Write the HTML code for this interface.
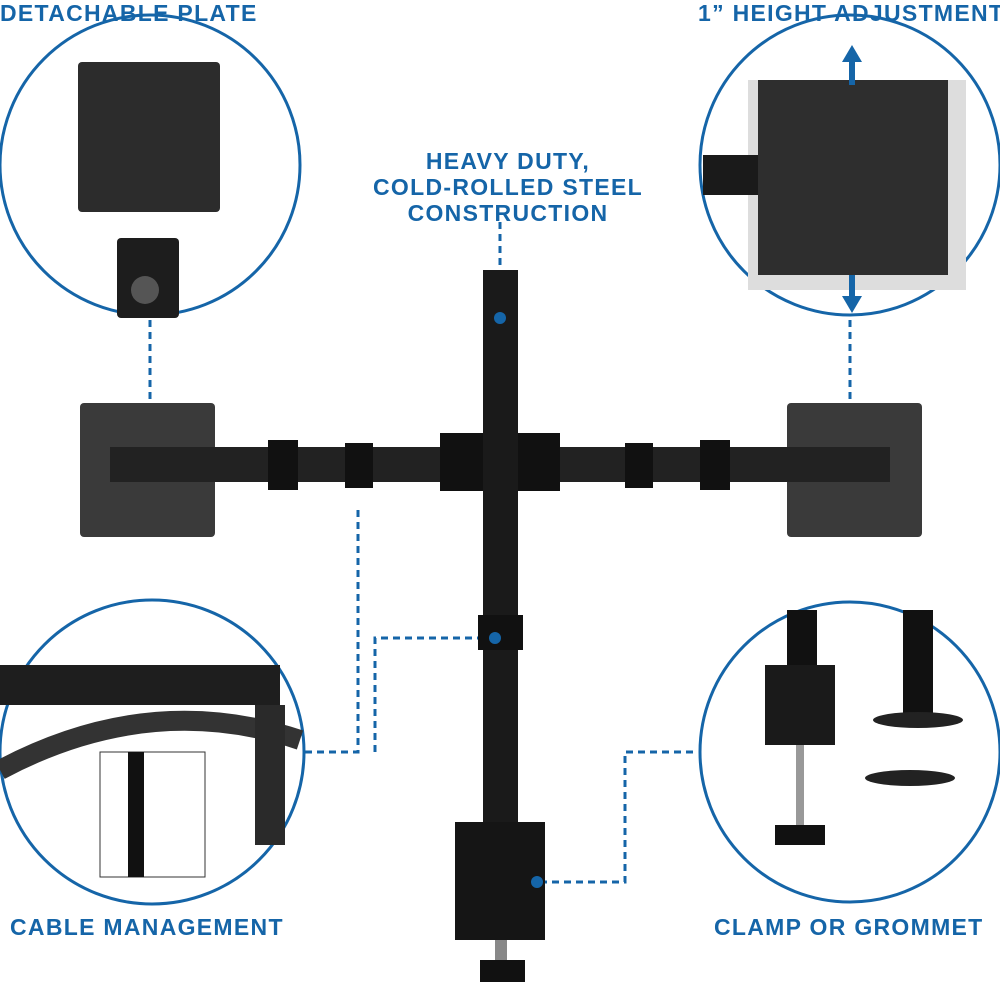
<!DOCTYPE html>
<html><head><meta charset="utf-8"><style>
body{margin:0;background:#fff}
.l{position:absolute;font-family:"Liberation Sans",sans-serif;font-weight:bold;color:#1565a8;font-size:23px;letter-spacing:1.3px;white-space:nowrap}
</style></head><body>
<div style="position:relative;width:1000px;height:1000px;overflow:hidden">
<svg width="1000" height="1000" style="position:absolute;left:0;top:0">
<g fill="none" stroke="#1565a8" stroke-width="3">
<circle cx="150" cy="165" r="150"/>
<circle cx="850" cy="165" r="150"/>
<circle cx="152" cy="752" r="152"/>
<circle cx="850" cy="752" r="150"/>
</g>
<g fill="none" stroke="#1565a8" stroke-width="3" stroke-dasharray="7,5">
<path d="M150 320 V400"/><path d="M850 320 V400"/>
<path d="M500 222 V312"/>
<path d="M358 510 V752 H305"/>
<path d="M375 752 V638 H490"/>
<path d="M540 882 H625 V752 H698"/>
</g>
<g fill="#3a3a3a"><rect x="80" y="403" width="135" height="134" rx="4"/><rect x="787" y="403" width="135" height="134" rx="4"/></g>
<rect x="110" y="447" width="780" height="35" fill="#222"/>
<rect x="440" y="433" width="120" height="58" fill="#111"/>
<g fill="#111"><rect x="268" y="440" width="30" height="50"/><rect x="345" y="443" width="28" height="45"/><rect x="625" y="443" width="28" height="45"/><rect x="700" y="440" width="30" height="50"/></g>
<rect x="483" y="270" width="35" height="560" fill="#1a1a1a"/>
<rect x="478" y="615" width="45" height="35" fill="#111"/>
<rect x="455" y="822" width="90" height="118" fill="#151515"/>
<rect x="495" y="940" width="12" height="25" fill="#888"/>
<rect x="480" y="960" width="45" height="22" fill="#111"/>
<g fill="#1565a8"><circle cx="500" cy="318" r="6"/><circle cx="495" cy="638" r="6"/><circle cx="537" cy="882" r="6"/></g>
<rect x="78" y="62" width="142" height="150" rx="4" fill="#2c2c2c"/>
<rect x="117" y="238" width="62" height="80" rx="4" fill="#1d1d1d"/>
<circle cx="145" cy="290" r="14" fill="#555"/>
<rect x="748" y="80" width="218" height="210" fill="#ddd"/>
<rect x="703" y="155" width="70" height="40" fill="#1a1a1a"/>
<rect x="758" y="80" width="190" height="195" fill="#2e2e2e"/>
<path d="M852 45 L842 62 H862 Z M852 313 L842 296 H862 Z" fill="#1565a8"/>
<rect x="849" y="60" width="6" height="25" fill="#1565a8"/><rect x="849" y="275" width="6" height="25" fill="#1565a8"/>
<rect x="0" y="665" width="280" height="40" fill="#1e1e1e"/>
<path d="M0 770 Q150 690 300 740" stroke="#333" stroke-width="20" fill="none"/>
<rect x="100" y="752" width="105" height="125" fill="#fff" stroke="#333"/>
<rect x="128" y="752" width="16" height="125" fill="#111"/>
<rect x="255" y="705" width="30" height="140" fill="#2a2a2a"/>
<rect x="787" y="610" width="30" height="60" fill="#111"/>
<rect x="765" y="665" width="70" height="80" fill="#1a1a1a"/>
<rect x="903" y="610" width="30" height="110" fill="#111"/>
<ellipse cx="918" cy="720" rx="45" ry="8" fill="#222"/>
<ellipse cx="910" cy="778" rx="45" ry="8" fill="#222"/>
<rect x="796" y="745" width="8" height="80" fill="#999"/>
<rect x="775" y="825" width="50" height="20" fill="#111"/>
</svg>
<div class="l" style="left:0px;top:0px">DETACHABLE PLATE</div>
<div class="l" style="left:698px;top:0px">1” HEIGHT ADJUSTMENT</div>
<div class="l" style="left:360px;top:148px;width:296px;text-align:center;line-height:26px">HEAVY DUTY,<br>COLD-ROLLED STEEL<br>CONSTRUCTION</div>
<div class="l" style="left:10px;top:914px">CABLE MANAGEMENT</div>
<div class="l" style="left:714px;top:914px">CLAMP OR GROMMET</div>
</div>
</body></html>
